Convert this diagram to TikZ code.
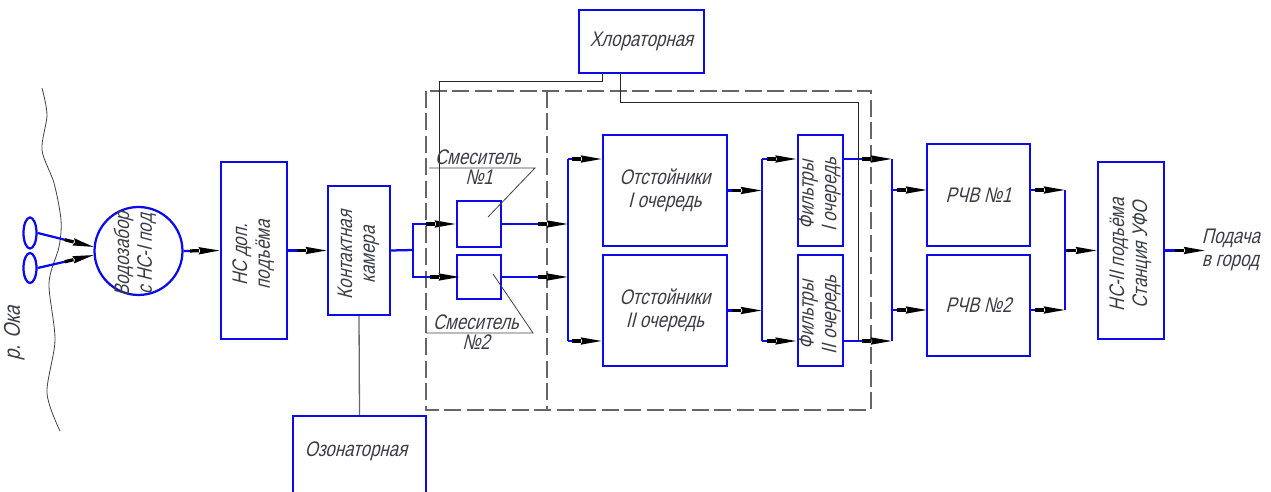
\documentclass[tikz,border=0pt]{standalone}
\usepackage{fontspec}
\setmainfont[FakeSlant=0.25,FakeStretch=0.8]{Liberation Sans}
\usetikzlibrary{arrows.meta, shapes.geometric}

\definecolor{flowblue}{RGB}{10,10,235}
\definecolor{labelgray}{RGB}{60,60,70}

\newcommand{\vtext}[1]{\rotatebox{90}{\begin{tabular}{@{}c@{}}#1\end{tabular}\hspace{5pt}}}

\tikzset{
  box/.style={draw=flowblue, line width=0.045cm, inner sep=0pt, text=labelgray,
    align=center, font=\fontsize{12}{13}\selectfont},
  lbl/.style={inner sep=0pt, text=labelgray, align=center, font=\fontsize{12}{13}\selectfont},
  flow/.style={draw=flowblue, line width=0.045cm},
  flowarrow/.style={flow, -{Rectangle[length=0.18cm,width=0.025cm,color=black].Stealth[length=0.42cm,width=0.14cm,inset=0.03cm,color=black]}},
  reagent/.style={draw=black!85, line width=0.014cm},
  leader/.style={draw=black!75, line width=0.016cm},
  frame/.style={draw=black!60, line width=0.022cm, dash pattern=on 0.34cm off 0.11cm},
}

\begin{document}
\begin{tikzpicture}[x=0.02cm, y=-0.02cm]
\useasboundingbox (0,0) rectangle (1271,492);
\clip (0,0) rectangle (1271,492);

% ===== River and intake =====
\draw[leader] plot[smooth] coordinates {(42,88) (47,115) (42,150) (54,183) (61,220) (59,247)
  (49,283) (55,340) (47,393) (60,431)};
\node[lbl, font=\fontsize{13}{14}\selectfont] (river) at (15,329) {\vtext{р. Ока}};
\node[draw=flowblue, line width=0.045cm, ellipse, minimum width=0.26cm, minimum height=0.62cm, inner sep=0pt] (heada) at (30,233) {};
\node[draw=flowblue, line width=0.045cm, ellipse, minimum width=0.26cm, minimum height=0.6cm, inner sep=0pt] (headb) at (30,268) {};
\node[box, circle, minimum size=1.76cm] (intake) at (138.5,251) {};
\node[lbl] (intakelbl) at (136,250) {\vtext{Водозабор\\с НС-I под}};
\coordinate (intakea) at (94,247);
\coordinate (intakeb) at (94,255);

% ===== Boxes =====
\node[box, minimum width=1.32cm, minimum height=3.54cm] (nsdop) at (254,250.5) {\vtext{НС доп.\\подъёма}};
\node[box, minimum width=1.24cm, minimum height=2.58cm] (kamera) at (359,250.5) {\vtext{Контактная\\камера}};
\node[box, minimum width=2.66cm, minimum height=1.88cm] (ozon) at (359.5,463) {};
\node[lbl] (ozonlbl) at (356,451) {Озонаторная};
\node[box, minimum width=2.5cm, minimum height=1.26cm] (hlor) at (641.5,41.5) {Хлораторная};

\node[box, minimum width=0.88cm, minimum height=0.92cm] (smesa) at (479,224) {};
\node[box, minimum width=0.88cm, minimum height=0.88cm] (smesb) at (479,277) {};

\node[box, minimum width=2.48cm, minimum height=2.22cm] (otsta) at (665,190.5) {Отстойники\\I очередь};
\node[box, minimum width=2.48cm, minimum height=2.22cm] (otstb) at (665,310.5) {Отстойники\\II очередь};
\node[box, minimum width=0.9cm, minimum height=2.22cm] (filta) at (820.5,190.5) {\vtext{Фильтры\\I очередь}};
\node[box, minimum width=0.9cm, minimum height=2.22cm] (filtb) at (820.5,310.5) {\vtext{Фильтры\\II очередь}};
\node[box, minimum width=2.06cm, minimum height=2.04cm] (rcha) at (978.5,195) {РЧВ №1};
\node[box, minimum width=2.06cm, minimum height=2.02cm] (rchb) at (978.5,305.5) {РЧВ №2};
\node[box, minimum width=1.32cm, minimum height=3.54cm] (nstwo) at (1131,250.5) {\vtext{НС-II подъёма\\Станция УФО}};
\node[lbl, align=left] (gorod) at (1231,250) {Подача\\в город};

% ===== Dashed frame =====
\coordinate (framea) at (426,91);
\coordinate (frameb) at (871,410);
\coordinate (framec) at (547,91);
\coordinate (framed) at (547,410);
\draw[frame] (framea) rectangle (frameb);
\draw[frame] (framec) -- (framed);

% ===== Flow connectors =====
\draw[flowarrow] (heada.east) -- (intakea);
\draw[flowarrow] (headb.east) -- (intakeb);
\draw[flowarrow] (intake.east) -- (nsdop.west);
\draw[flowarrow] (nsdop.east) -- (kamera.west);

\coordinate (busa) at (413,250);
\draw[flow] (kamera.east) -- (busa);
\draw[flowarrow] (busa) |- (smesa.west);
\draw[flowarrow, shorten >=-0.08cm] (busa) |- (smesb.west);

\coordinate (busbtop) at (568,159);
\coordinate (busbbot) at (568,341);
\draw[flow] (busbtop) -- (busbbot);
\draw[flowarrow] (smesa.east) -- (busbtop |- smesa.east);
\draw[flowarrow] (smesb.east) -- (busbtop |- smesb.east);
\draw[flowarrow] (busbtop) -- (otsta.west |- busbtop);
\draw[flowarrow] (busbbot) -- (otstb.west |- busbbot);

\coordinate (busctop) at (762,159);
\coordinate (buscbot) at (762,341);
\draw[flow] (busctop) -- (buscbot);
\draw[flowarrow] (otsta.east) -- (busctop |- otsta.east);
\draw[flowarrow] (otstb.east) -- (busctop |- otstb.east);
\draw[flowarrow] (busctop) -- (filta.west |- busctop);
\draw[flowarrow] (buscbot) -- (filtb.west |- buscbot);

\coordinate (busdtop) at (892,159);
\coordinate (busdbot) at (892,341);
\draw[flow] (busdtop) -- (busdbot);
\draw[flowarrow] (filta.east |- busdtop) -- (busdtop);
\draw[flowarrow] (filtb.east |- busdbot) -- (busdbot);
\coordinate (rchain) at (927,190);
\coordinate (rchbin) at (927,310);
\draw[flowarrow] (busdtop |- rchain) -- (rchain);
\draw[flowarrow] (busdtop |- rchbin) -- (rchbin);

\coordinate (busetop) at (1065,190);
\coordinate (busebot) at (1065,310);
\draw[flow] (busetop) -- (busebot);
\draw[flowarrow] (rcha.east |- busetop) -- (busetop);
\draw[flowarrow] (rchb.east |- busebot) -- (busebot);
\draw[flowarrow] (busetop |- nstwo.west) -- (nstwo.west);
\coordinate (feed) at (1205,250.5);
\draw[flowarrow] (nstwo.east) -- (feed);

% ===== Reagent lines =====
\draw[leader, draw=black!60, line width=0.026cm] (kamera.south) -- (ozon.north);
\coordinate (hlorl) at (602,73);
\coordinate (hlorr) at (620,73);
\coordinate (clorl) at (439,277);
\coordinate (clorr) at (858,341);
\draw[reagent] (hlorl) -- (602,81) -| (clorl);
\draw[reagent] (hlorr) -- (620,102) -| (clorr);

% ===== Mixer labels =====
\node[lbl] (smesalbl) at (478,157) {Смеситель};
\node[lbl] (smesanum) at (479,177) {№1};
\node[lbl] (smesblbl) at (476,322) {Смеситель};
\node[lbl] (smesbnum) at (476,342) {№2};
\coordinate (leadaa) at (429,168);
\coordinate (leadab) at (535,168);
\coordinate (leadac) at (488,217);
\coordinate (leadba) at (426,333);
\coordinate (leadbb) at (533,333);
\coordinate (leadbc) at (493,274);
\draw[leader] (leadaa) -- (leadab) -- (leadac);
\draw[leader] (leadba) -- (leadbb) -- (leadbc);

\end{tikzpicture}
\end{document}
